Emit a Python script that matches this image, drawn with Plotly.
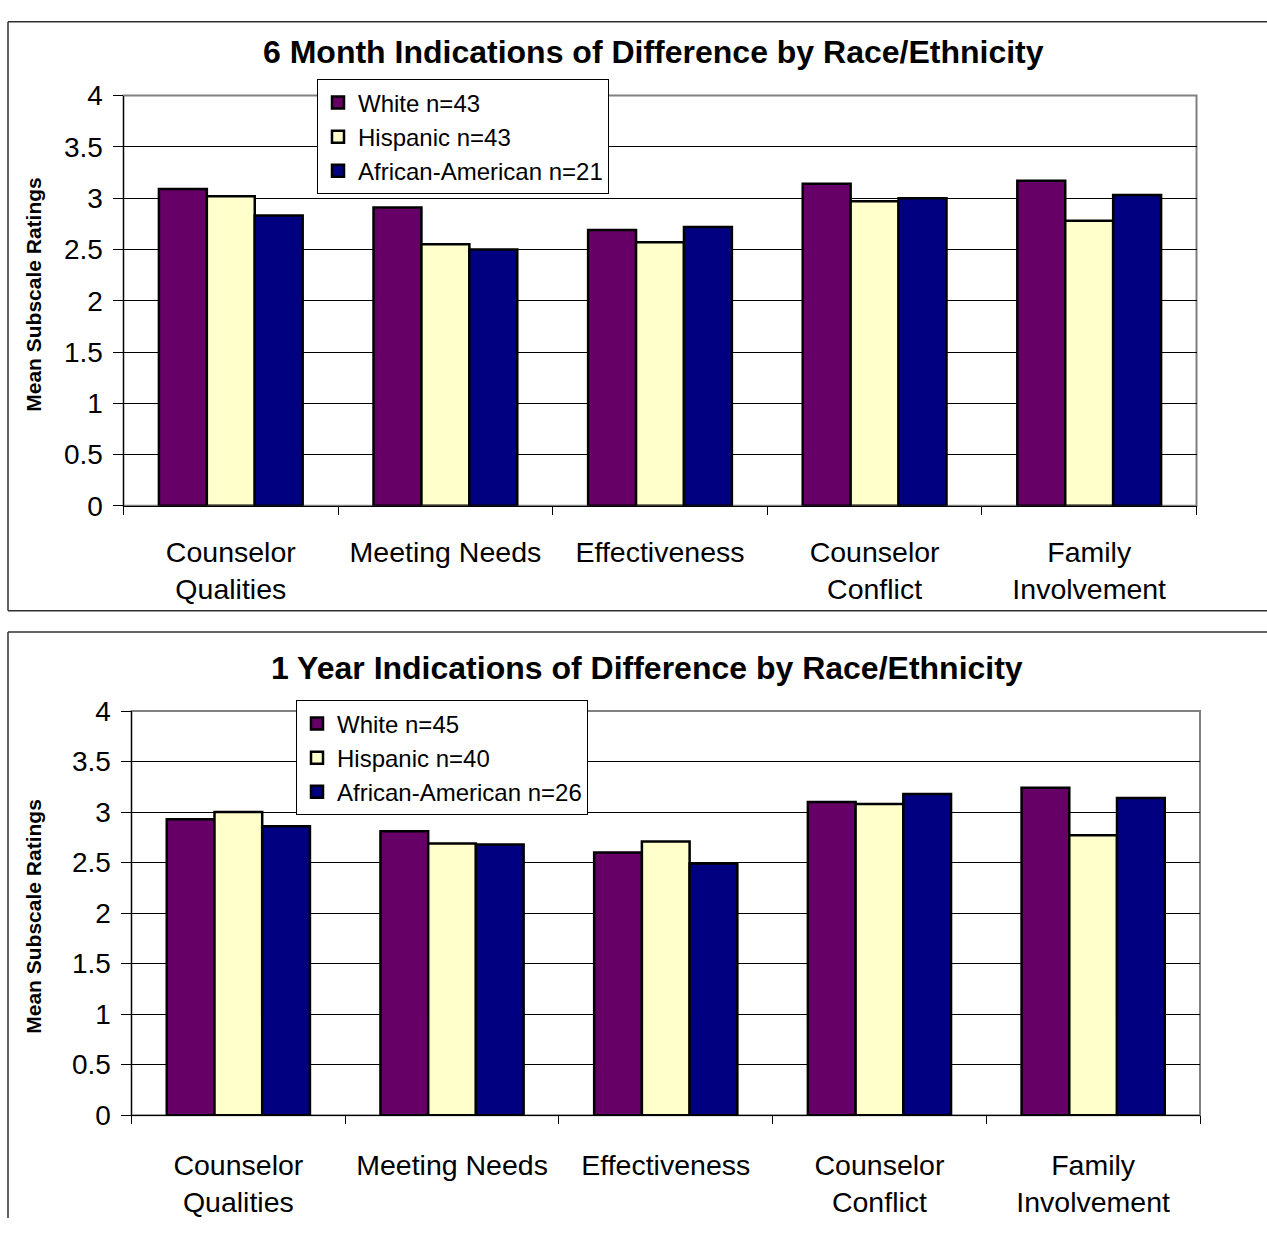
import plotly.graph_objects as go

W, H = 1267, 1234

categories = ['Counselor<br>Qualities', 'Meeting Needs', 'Effectiveness',
              'Counselor<br>Conflict', 'Family<br>Involvement']

# 6 month means
white_6m = [3.09, 2.91, 2.69, 3.14, 3.17]
hispanic_6m = [3.02, 2.55, 2.57, 2.97, 2.78]
afam_6m = [2.83, 2.50, 2.72, 3.00, 3.03]
names_6m = ['White n=43', 'Hispanic n=43', 'African-American n=21']

# 1 year means
white_1y = [2.93, 2.81, 2.60, 3.10, 3.24]
hispanic_1y = [3.00, 2.69, 2.71, 3.08, 2.77]
afam_1y = [2.86, 2.68, 2.49, 3.18, 3.14]
names_1y = ['White n=45', 'Hispanic n=40', 'African-American n=26']

titles = ['6 Month Indications of Difference by Race/Ethnicity',
          '1 Year Indications of Difference by Race/Ethnicity']
y_title = 'Mean Subscale Ratings'

colors = ['#660066', '#FFFFCC', '#000080']
FONT = 'Liberation Sans, Arial, sans-serif'


def px_x(v):
    return v / W


def px_y(v):
    return 1 - v / H


fig = go.Figure()

sets = [
    ('x', 'y', 'legend', [white_6m, hispanic_6m, afam_6m], names_6m),
    ('x2', 'y2', 'legend2', [white_1y, hispanic_1y, afam_1y], names_1y),
]
for xa, ya, lg, series, names in sets:
    for vals, name, col in zip(series, names, colors):
        fig.add_bar(x=categories, y=vals, name=name, xaxis=xa, yaxis=ya, legend=lg,
                    marker=dict(color=col, line=dict(color='black', width=2.5)))

# plot area pixel boxes: left, right, top(4), bottom(0)
boxes = [(123.5, 1196.5, 82.7, 503.5), (131.5, 1200, 714, 1128.5)]

axis_common_x = dict(type='category', tickson='boundaries', ticks='outside', ticklen=8,
                     tickcolor='black', showline=True, linecolor='black', linewidth=1,
                     showgrid=False, tickfont=dict(size=28.5, color='black', family=FONT))
axis_common_y = dict(range=[0, 4], dtick=0.5, showgrid=True, gridcolor='black', gridwidth=1,
                     ticks='outside', ticklen=10, tickcolor='black', showline=True,
                     linecolor='black', linewidth=1, zeroline=False,
                     tickfont=dict(size=28, color='black', family=FONT),
                     ticklabelstandoff=4)

(l1, r1, t1, b1), (l2, r2, t2, b2) = boxes
fig.update_layout(
    xaxis=dict(domain=[px_x(l1), px_x(r1)], anchor='y', ticklabelstandoff=21,
               **axis_common_x),
    yaxis=dict(domain=[px_y(b1), px_y(t1)], anchor='x', **axis_common_y),
    xaxis2=dict(domain=[px_x(l2), px_x(r2)], anchor='y2', ticklabelstandoff=25,
                **axis_common_x),
    yaxis2=dict(domain=[px_y(b2), px_y(t2)], anchor='x2', **axis_common_y),
)

legend_style = dict(xanchor='left', yanchor='top', bgcolor='white', bordercolor='black',
                    borderwidth=1, font=dict(size=24, color='black', family=FONT),
                    tracegroupgap=0)
fig.update_layout(
    legend=dict(x=px_x(317), y=px_y(66), **legend_style),
    legend2=dict(x=px_x(296), y=px_y(703), **legend_style),
)

shapes = []
annotations = []
# plot area borders (grey)
for l, r, t, b in boxes:
    shapes.append(dict(type='rect', xref='paper', yref='paper', x0=px_x(l), x1=px_x(r),
                       y0=px_y(b), y1=px_y(t), line=dict(color='#808080', width=2),
                       layer='below'))
# chart frames (right side and lower chart bottom run off the page)
frame = dict(color='#303030', width=1.5)
shapes.append(dict(type='line', xref='paper', yref='paper', x0=px_x(8), x1=1,
                   y0=px_y(7), y1=px_y(7), line=frame))
shapes.append(dict(type='line', xref='paper', yref='paper', x0=px_x(8), x1=1,
                   y0=px_y(611), y1=px_y(611), line=frame))
shapes.append(dict(type='line', xref='paper', yref='paper', x0=px_x(8), x1=px_x(8),
                   y0=px_y(611), y1=px_y(7), line=frame))
shapes.append(dict(type='line', xref='paper', yref='paper', x0=px_x(8), x1=1,
                   y0=px_y(633), y1=px_y(633), line=frame))
shapes.append(dict(type='line', xref='paper', yref='paper', x0=px_x(8), x1=px_x(8),
                   y0=0, y1=px_y(633), line=frame))

for title, cx, cy in [(titles[0], 653, 38), (titles[1], 647, 670)]:
    annotations.append(dict(text='<b>' + title + '</b>', xref='paper', yref='paper',
                            x=px_x(cx), y=px_y(cy), xanchor='center', yanchor='middle',
                            showarrow=False,
                            font=dict(size=32, color='black', family=FONT)))
for cy in [287, 925]:
    annotations.append(dict(text='<b>' + y_title + '</b>', xref='paper', yref='paper',
                            x=px_x(34), y=px_y(cy), xanchor='center', yanchor='middle',
                            showarrow=False, textangle=-90,
                            font=dict(size=21, color='black', family=FONT)))

fig.update_layout(
    width=W, height=H,
    margin=dict(l=0, r=0, t=0, b=0),
    paper_bgcolor='white', plot_bgcolor='white',
    barmode='group', bargap=0.33, bargroupgap=0,
    font=dict(family=FONT, color='black'),
    shapes=shapes, annotations=annotations,
)

fig.write_html("out.html", config={'displayModeBar': False},
               post_script="document.body.style.margin='0';")
